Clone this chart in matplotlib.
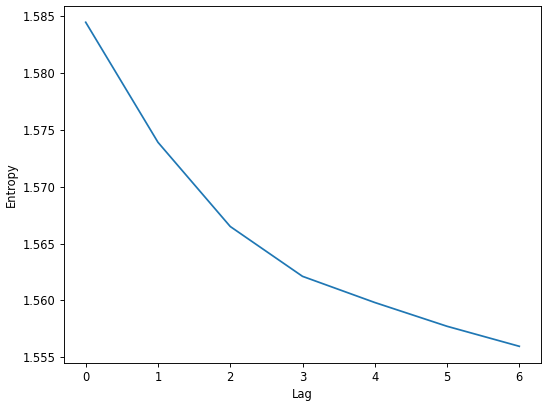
import matplotlib
matplotlib.use('Agg')
import matplotlib.pyplot as plt

# entropy per lag
lags = [0, 1, 2, 3, 4, 5, 6]
entropy = [1.58445, 1.57390, 1.56650, 1.56212, 1.55982, 1.55773, 1.55597]

# reference looks like a downscaled default figure, so use a lower dpi
dpi = 83
fig, ax = plt.subplots(figsize=(550 / dpi, 404 / dpi), dpi=dpi)
ax.plot(lags, entropy)
ax.set_xlabel('Lag')
ax.set_ylabel('Entropy')

fig.subplots_adjust(left=0.1164, right=0.9836, top=0.985, bottom=0.1027)
plt.savefig('out.png', dpi=dpi)
